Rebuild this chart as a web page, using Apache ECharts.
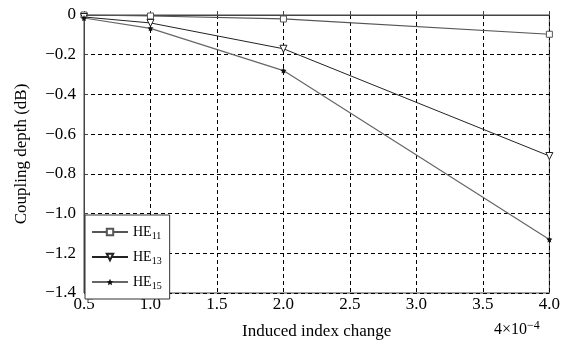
<!DOCTYPE html>
<html><head><meta charset="utf-8">
<script src="https://cdn.jsdelivr.net/npm/echarts@6/dist/echarts.min.js"></script>
<style>html,body{margin:0;padding:0;background:#fff}#c{width:563px;height:345px}</style>
</head><body><div id="c"></div>
<script>
const xValues = [0.5, 1.0, 2.0, 4.0];
const he11 = [0, -0.005, -0.02, -0.097];
const he13 = [-0.01, -0.04, -0.17, -0.71];
const he15 = [-0.015, -0.067, -0.28, -1.13];
const seriesNames = ['HE11', 'HE13', 'HE15'];
const xTitle = 'Induced index change';
const yTitle = 'Coupling depth (dB)';

const font = 'Liberation Serif, Times New Roman, serif';
const chart = echarts.init(document.getElementById('c'));
function pairs(arr){ return xValues.map((x,i)=>[x, arr[i]]); }
const colors = ['#555', '#222', '#666'];
chart.setOption({
  animation: false,
  grid: {left: 84, right: 13, top: 15, bottom: 50, show: true, borderColor: '#444', borderWidth: 1},
  xAxis: {
    type: 'value', min: 0.5, max: 4.0, interval: 0.5,
    axisLine: {show: true, lineStyle: {color: '#444', width: 1}},
    axisTick: {show: true, inside: true, length: 4, lineStyle: {color: '#444'}},
    axisLabel: {color: '#000', fontFamily: font, fontSize: 17, margin: 3, formatter: v => v.toFixed(1)},
    splitLine: {show: true, lineStyle: {color: '#000', type: [4, 3], width: 1}},
    name: xTitle, nameLocation: 'middle', nameGap: 30,
    nameTextStyle: {color: '#000', fontFamily: font, fontSize: 17}
  },
  yAxis: {
    type: 'value', min: -1.4, max: 0, interval: 0.2,
    axisLine: {show: true, lineStyle: {color: '#444', width: 1}},
    axisTick: {show: true, inside: true, length: 4, lineStyle: {color: '#444'}},
    axisLabel: {color: '#000', fontFamily: font, fontSize: 17, margin: 8,
      formatter: v => Math.abs(v) < 1e-9 ? '0' : '\u2212' + Math.abs(v).toFixed(1)},
    splitLine: {show: true, lineStyle: {color: '#000', type: [4, 3], width: 1}},
    name: yTitle, nameLocation: 'middle', nameGap: 54, nameRotate: 90,
    nameTextStyle: {color: '#000', fontFamily: font, fontSize: 17}
  },
  legend: {
    orient: 'vertical', left: 85, top: 215, itemGap: 9,
    itemWidth: 36, itemHeight: 8,
    backgroundColor: '#fff', borderColor: '#333', borderWidth: 1,
    padding: [10, 8, 8, 6],
    data: seriesNames,
    formatter: n => 'HE{s|' + n.slice(2) + '}',
    textStyle: {color: '#000', fontFamily: font, fontSize: 14,
      rich: {s: {fontSize: 10, fontFamily: font, verticalAlign: 'bottom', lineHeight: 18, padding: [6,0,0,0]}}}
  },
  series: [
    {name: seriesNames[0], type: 'line', data: pairs(he11), symbol: 'rect', symbolSize: 6,
     color: colors[0], lineStyle: {color: colors[0], width: 1.2},
     itemStyle: {color: '#fff', borderColor: colors[0], borderWidth: 1}},
    {name: seriesNames[1], type: 'line', data: pairs(he13), symbol: 'triangle', symbolRotate: 180, symbolSize: 7,
     color: colors[1], lineStyle: {color: colors[1], width: 1},
     itemStyle: {color: '#fff', borderColor: colors[1], borderWidth: 1}},
    {name: seriesNames[2], type: 'line', data: pairs(he15), symbol: 'path://M0,-10 L2.9,-4 9.5,-3.1 4.7,1.5 5.9,8.1 0,5 -5.9,8.1 -4.7,1.5 -9.5,-3.1 -2.9,-4 Z', symbolSize: 6,
     color: colors[2], lineStyle: {color: colors[2], width: 1.2},
     itemStyle: {color: '#111', borderColor: '#111', borderWidth: 0}}
  ],
  graphic: [{
    type: 'text', left: 494, top: 320,
    style: {text: '4\u00d710{s|\u22124}', fill: '#000', font: '16px ' + font,
      rich: {s: {fontSize: 12, fontFamily: font, verticalAlign: 'top', padding: [0,0,8,0]}}}
  }]
});
</script></body></html>
